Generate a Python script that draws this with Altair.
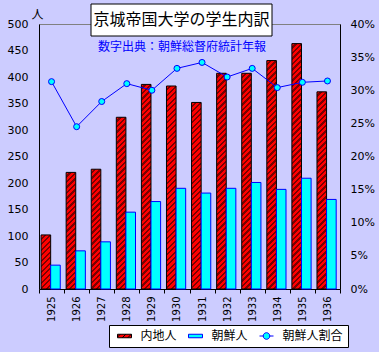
import altair as alt

# ---------------- data ----------------
years = ["1925", "1926", "1927", "1928", "1929", "1930",
         "1931", "1932", "1933", "1934", "1935", "1936"]
naichi = [102, 220, 226, 324, 386, 383, 352, 407, 407, 431, 463, 372]
chosen = [45, 72, 89, 145, 165, 190, 181, 190, 201, 188, 209, 169]
ratio = [31.3, 24.5, 28.3, 31.0, 30.0, 33.3, 34.2, 32.0, 33.3, 30.4, 31.2, 31.4]
series = ["内地人", "朝鮮人", "朝鮮人割合"]
left_ticks = [0, 50, 100, 150, 200, 250, 300, 350, 400, 450, 500]
right_ticks = [0, 5, 10, 15, 20, 25, 30, 35, 40]
title_text = "京城帝国大学の学生内訳"
source_text = "数字出典：朝鮮総督府統計年報"
unit_text = "人"

# ---------------- style ----------------
W, H = 301, 265
YMAX = 500
STEP = W / len(years)
OFF_PAD = 0.306
BAR_W = STEP / (2 + 2 * OFF_PAD)
RED, DARK, CYAN, BLUE = "#FF0000", "#7A0000", "#00FFFF", "#0000FF"
CJK = "Noto Sans CJK JP"
NUM = "DejaVu Sans"


def hatch(value, period=5.5, frac=0.45):
    h = max(value / YMAX * H, 1.0)
    w = BAR_W
    L = w + h
    c = L * w * h / (w * w + h * h)
    n = L / period
    stops = []
    k = 0
    while k / n < 1:
        a = k / n
        b = min((k + 1 - frac) / n, 1.0)
        e = min((k + 1) / n, 1.0)
        stops += [{"offset": a, "color": RED}, {"offset": b, "color": RED}]
        if b < 1:
            stops += [{"offset": b, "color": DARK}, {"offset": e, "color": DARK}]
        k += 1
    return {"gradient": "linear", "x1": 0, "y1": 0, "x2": c / h, "y2": c / w, "stops": stops}


def striped_rect_path():
    parts = ["M-1.4,-0.35H1.4V0.35H-1.4Z"]
    s = -1.2
    while s < 1.75:
        ua, va = s - 0.35, 0.35
        ub, vb = s + 0.35, -0.35
        if ua < -1.4:
            ua, va = -1.4, s + 1.4
        if ub > 1.4:
            ub, vb = 1.4, s - 1.4
        if ua < ub:
            parts.append(f"M{ua:.3f},{va:.3f}L{ub:.3f},{vb:.3f}")
        s += 1.1
    return "".join(parts)


rect_path = "M-1.4,-0.35H1.4V0.35H-1.4Z"
line_path = ("M-1.4,0H-0.66M0.66,0H1.4"
             "M-0.66,0A0.66,0.66,0,1,1,0.66,0A0.66,0.66,0,1,1,-0.66,0Z")

bar_rows = []
for i, y in enumerate(years):
    bar_rows.append({"year": y, "series": series[0], "value": naichi[i],
                     "fillv": hatch(naichi[i]), "strokev": "#000000"})
    bar_rows.append({"year": y, "series": series[1], "value": chosen[i],
                     "fillv": CYAN, "strokev": BLUE})
ratio_rows = [{"year": y, "ratio": r} for y, r in zip(years, ratio)]

xscale = alt.Scale(type="band", paddingInner=0, paddingOuter=0)
x_axis = alt.Axis(title=None, labelAngle=270, labelFont=NUM, labelFontSize=10,
                  labelColor="black", tickBand="extent", tickSize=4,
                  tickColor="black", domainColor="black", labelPadding=3,
                  grid=False)
X = alt.X("year:N", sort=years, scale=xscale, axis=x_axis)

bars = alt.Chart(alt.Data(values=bar_rows)).mark_bar(strokeWidth=1).encode(
    x=X,
    xOffset=alt.XOffset("series:N", sort=series[:2],
                        scale=alt.Scale(domain=series[:2], paddingInner=0,
                                        paddingOuter=OFF_PAD, align=0.35)),
    y=alt.Y("value:Q", stack=None,
            scale=alt.Scale(domain=[0, YMAX], nice=False),
            axis=alt.Axis(title=unit_text, titleAngle=0, titleX=-2, titleY=-10,
                          titleAlign="center", titleBaseline="middle",
                          titleFont=CJK, titleFontSize=12, titleFontWeight="normal",
                          titleColor="black", values=left_ticks,
                          labelFont=NUM, labelFontSize=11, labelColor="black",
                          ticks=False, labelPadding=11, domainColor="black",
                          grid=False)),
    fill=alt.Fill("fillv:N", scale=None, legend=None),
    stroke=alt.Stroke("strokev:N", scale=None, legend=None),
)

Y2 = alt.Y("ratio:Q", scale=alt.Scale(domain=[0, 40], nice=False),
           axis=alt.Axis(title=None, orient="right", values=right_ticks,
                         labelExpr="datum.value + '%'", labelFont=NUM,
                         labelFontSize=11, labelColor="black", ticks=False,
                         labelPadding=10, domainColor="black", grid=False))

line = alt.Chart(alt.Data(values=ratio_rows)).mark_line(
    color=BLUE, strokeWidth=1).encode(x=X, y=Y2)
points = alt.Chart(alt.Data(values=ratio_rows)).mark_point(
    shape="circle", filled=True, fill=CYAN, stroke=BLUE, strokeWidth=1,
    size=36, opacity=1).encode(x=X, y=Y2)

leg = alt.Legend(title=None, orient="none", legendX=70, legendY=301,
                 direction="horizontal", columns=3, symbolSize=100,
                 symbolStrokeWidth=1, symbolOffset=4.5, labelOffset=10,
                 columnPadding=8, padding=5, strokeColor="black",
                 fillColor="white", labelFont=CJK, labelFontSize=12,
                 labelColor="black", cornerRadius=0)

legend_layer = alt.Chart(alt.Data(values=[{"series": s} for s in series])).transform_filter(
    "false").mark_point(filled=True, opacity=1).encode(
    shape=alt.Shape("series:N", sort=series,
                    scale=alt.Scale(domain=series,
                                    range=[striped_rect_path(), rect_path, line_path]),
                    legend=leg),
    fill=alt.Fill("series:N", sort=series,
                  scale=alt.Scale(domain=series, range=[RED, CYAN, CYAN]),
                  legend=leg),
    stroke=alt.Stroke("series:N", sort=series,
                      scale=alt.Scale(domain=series, range=["#000000", BLUE, BLUE]),
                      legend=leg),
)

pct = alt.layer(line, points, legend_layer)

one = alt.Data(values=[{"k": 1}])
title_box = alt.Chart(one).mark_rect(fill="white", stroke="black", strokeWidth=1).encode(
    x=alt.value(52), x2=alt.value(233), y=alt.value(-20), y2=alt.value(12))
title_mark = alt.Chart(one).mark_text(
    text=title_text, font=CJK, fontSize=16, color="black",
    align="center", baseline="middle").encode(x=alt.value(142.5), y=alt.value(-4))
source_mark = alt.Chart(one).mark_text(
    text=source_text, font=CJK, fontSize=12, color=BLUE,
    align="center", baseline="middle").encode(x=alt.value(143), y=alt.value(23))

chart = alt.layer(bars, pct, title_box, title_mark, source_mark).resolve_scale(
    y="independent", fill="independent", stroke="independent", shape="independent"
).properties(
    width=W, height=H, background="#CCCCFF",
    padding={"left": 39, "top": 24, "right": 39, "bottom": 63},
    autosize=alt.AutoSizeParams(type="none"),
).configure_view(fill="white", stroke="#808080", strokeWidth=1)

chart.save("out.html", embed_options={"renderer": "svg", "actions": False})
